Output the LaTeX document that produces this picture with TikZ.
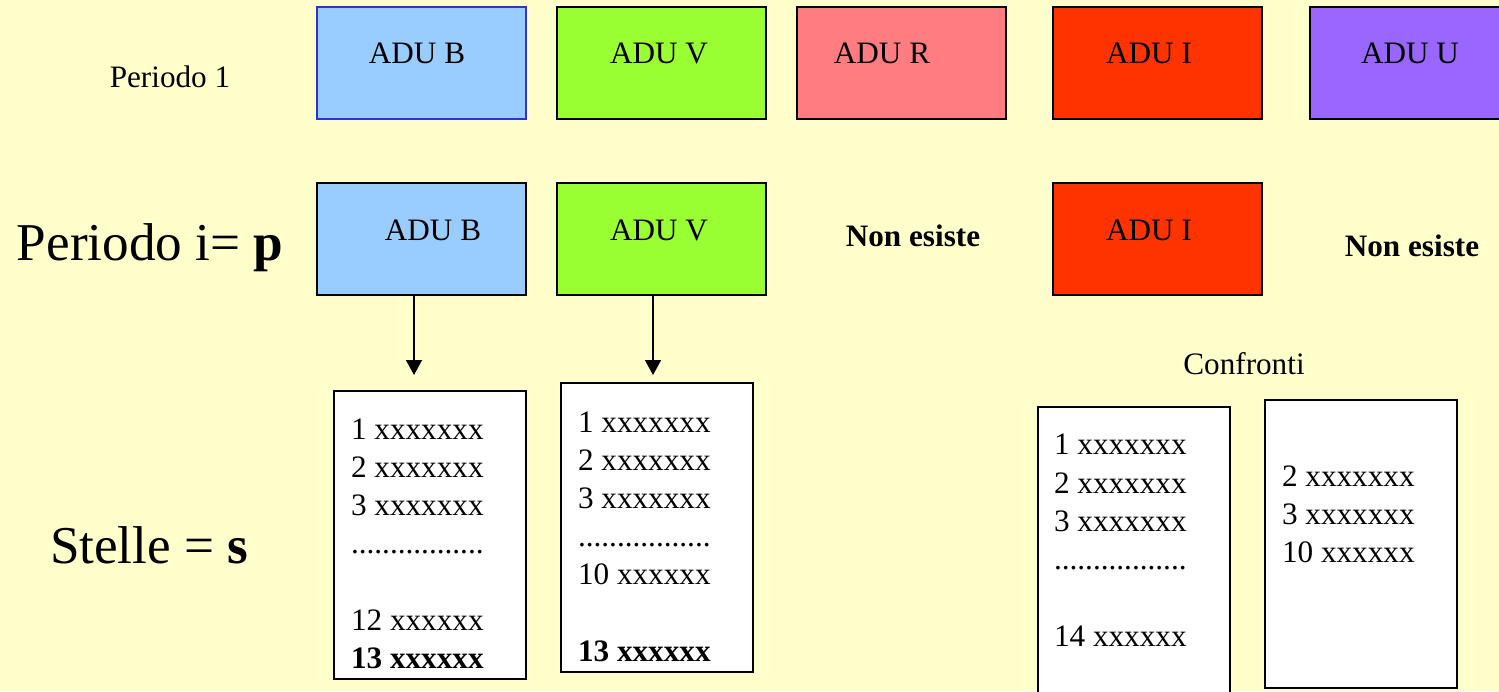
\documentclass[tikz,border=0pt]{standalone}
\usepackage{fontspec}
\setmainfont{Liberation Serif}
\usetikzlibrary{arrows.meta}
\definecolor{bg}{HTML}{FFFFCC}
\definecolor{cB}{HTML}{99CCFF}
\definecolor{cBdraw}{HTML}{3333CC}
\definecolor{cV}{HTML}{99FF33}
\definecolor{cR}{HTML}{FF7C80}
\definecolor{cI}{HTML}{FF3300}
\definecolor{cU}{HTML}{9966FF}
\begin{document}
\begin{tikzpicture}[x=0.5pt,y=-0.5pt,
  adubox/.style={draw=black, line width=1pt, rectangle, inner sep=0pt, outer sep=0pt,
     minimum width=104.5pt, minimum height=56pt},
  listbox/.style={draw=black, line width=1pt, fill=white, rectangle, inner sep=0pt, outer sep=0pt,
     minimum width=96pt},
  small/.style={font=\fontsize{15.6pt}{19pt}\selectfont, inner sep=0pt, outer sep=0pt},
  big/.style={font=\fontsize{26.6pt}{32pt}\selectfont, inner sep=0pt, outer sep=0pt},
  line/.style={small, anchor=base west},
  arr/.style={line width=0.8pt, -{Triangle[length=7.5pt,width=8pt]}}
]
\fill[bg] (0,0) rectangle (1499,691);
\useasboundingbox (0,0) rectangle (1499,691);

% row 1
\node[small, anchor=base] (p1) at (170,87) {Periodo 1};
\node[adubox, fill=cB, draw=cBdraw, line width=0.8pt] (b1) at (421.5,63) {};
\node[adubox, fill=cV] (v1) at (661.5,63) {};
\node[adubox, fill=cR] (r1) at (901,63) {};
\node[adubox, fill=cI] (i1) at (1157.5,63) {};
\node[adubox, fill=cU] (u1) at (1414,63) {};
\node[small, anchor=base] (tb1) at (417,63) {ADU B};
\node[small, anchor=base] (tv1) at (659,63) {ADU V};
\node[small, anchor=base] (tr1) at (882,63) {ADU R};
\node[small, anchor=base] (ti1) at (1149,63) {ADU I};
\node[small, anchor=base] (tu1) at (1410,63) {ADU U};

% row 2
\node[big, anchor=base west] (pp) at (17,260) {Periodo i= \textbf{p}};
\node[adubox, fill=cB] (b2) at (421.5,239) {};
\node[adubox, fill=cV] (v2) at (661.5,239) {};
\node[adubox, fill=cI] (i2) at (1157.5,239) {};
\node[small, anchor=base] (tb2) at (433,240) {ADU B};
\node[small, anchor=base] (tv2) at (659,240) {ADU V};
\node[small, anchor=base] (ti2) at (1149,240) {ADU I};
\node[small, anchor=base, font=\fontsize{15.6pt}{19pt}\selectfont\bfseries] (ne1) at (913,246) {Non esiste};
\node[small, anchor=base, font=\fontsize{15.6pt}{19pt}\selectfont\bfseries] (ne2) at (1412,256) {Non esiste};

% arrows
\coordinate (a1) at (414,375);
\coordinate (a2) at (653,375);
\draw[arr] (b2.south -| a1) -- (a1);
\draw[arr] (v2.south -| a2) -- (a2);

% stelle
\node[big, anchor=base west] (st) at (50,563) {Stelle = \textbf{s}};

% list boxes
\node[listbox, minimum height=144pt] (L1) at (429.5,535) {};
\node[listbox, minimum height=144.5pt] (L2) at (657,527.5) {};
\node[small, anchor=base] (conf) at (1244,374) {Confronti};
\node[listbox, minimum height=150pt] (L3) at (1134,557) {};
\node[listbox, minimum height=144pt] (L4) at (1361,544) {};

% list 1
\node[line] (l1a) at (351,439) {1 xxxxxxx};
\node[line] (l1b) at (351,477) {2 xxxxxxx};
\node[line] (l1c) at (351,515) {3 xxxxxxx};
\node[line] (l1d) at (351,553) {.................};
\node[line] (l1e) at (351,630) {12 xxxxxx};
\node[line] (l1f) at (351,668) {\textbf{13 xxxxxx}};

% list 2
\node[line] (l2a) at (578,432) {1 xxxxxxx};
\node[line] (l2b) at (578,470) {2 xxxxxxx};
\node[line] (l2c) at (578,508) {3 xxxxxxx};
\node[line] (l2d) at (578,546) {.................};
\node[line] (l2e) at (578,584) {10 xxxxxx};
\node[line] (l2f) at (578,661) {\textbf{13 xxxxxx}};

% list 3
\node[line] (l3a) at (1054,454) {1 xxxxxxx};
\node[line] (l3b) at (1054,493) {2 xxxxxxx};
\node[line] (l3c) at (1054,531) {3 xxxxxxx};
\node[line] (l3d) at (1054,569) {.................};
\node[line] (l3e) at (1054,646) {14 xxxxxx};

% list 4
\node[line] (l4a) at (1282,486) {2 xxxxxxx};
\node[line] (l4b) at (1282,524) {3 xxxxxxx};
\node[line] (l4c) at (1282,562) {10 xxxxxx};
\end{tikzpicture}
\end{document}
